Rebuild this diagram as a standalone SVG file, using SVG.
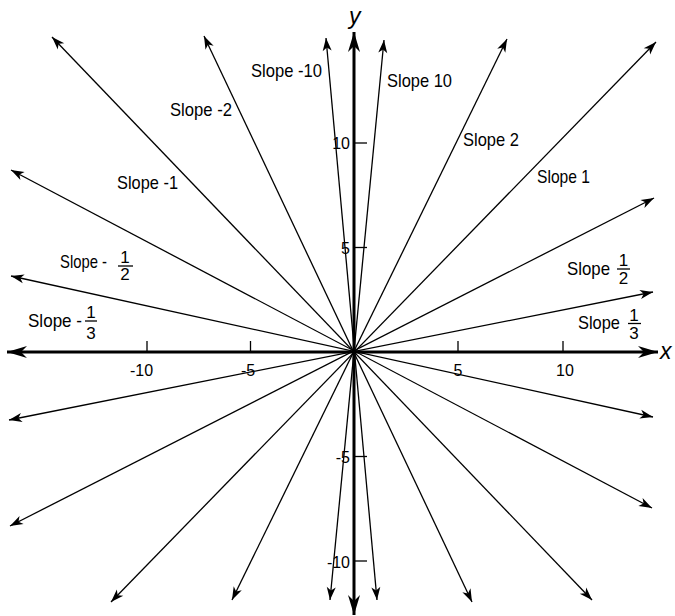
<svg xmlns="http://www.w3.org/2000/svg" width="675" height="616" viewBox="0 0 675 616">
<style>
.ln{stroke:#000;stroke-width:1.3;fill:none;marker-start:url(#ah);marker-end:url(#ah)}
.ax{stroke:#000;stroke-width:3;fill:none;marker-start:url(#axh);marker-end:url(#axh)}
.tk{stroke:#000;stroke-width:1.3}
.bar{stroke:#000;stroke-width:1.3}
text{font-family:"Liberation Sans",Arial,sans-serif;fill:#000}
.lb{font-size:19px}
.fr{font-size:17px;text-anchor:middle}
.num{font-size:16px}
.axl{font-size:23px;font-style:italic}
</style>
<defs>
<marker id="ah" markerUnits="userSpaceOnUse" orient="auto-start-reverse" refX="0" refY="0" overflow="visible" markerWidth="14" markerHeight="10">
<path d="M0,0 L-13,-4.5 L-9.5,0 L-13,4.5 Z" fill="#000"/>
</marker>
<marker id="axh" markerUnits="userSpaceOnUse" orient="auto-start-reverse" refX="0" refY="0" overflow="visible" markerWidth="22" markerHeight="14">
<path d="M0,0 L-20,-6 L-14,0 L-20,6 Z" fill="#000"/>
</marker>
</defs>
<rect width="675" height="616" fill="#fff"/>
<g id="connectors">
<line class="ln" x1="330" y1="600" x2="384" y2="40"/>
<line class="ln" x1="377" y1="600" x2="326" y2="38"/>
<line class="ln" x1="232" y1="600" x2="507" y2="39"/>
<line class="ln" x1="472" y1="602" x2="204" y2="36"/>
<line class="ln" x1="111" y1="602" x2="656" y2="42"/>
<line class="ln" x1="592" y1="600" x2="52" y2="37"/>
<line class="ln" x1="10" y1="526" x2="654" y2="198"/>
<line class="ln" x1="652" y1="508" x2="11" y2="170"/>
<line class="ln" x1="9" y1="420" x2="653" y2="292"/>
<line class="ln" x1="653" y1="417" x2="11" y2="276"/>
</g>
<g id="x-axis">
<line class="ax" x1="7" y1="352" x2="658" y2="352"/>
<line class="tk" x1="147" y1="341" x2="147" y2="352"/>
<line class="tk" x1="250.5" y1="341" x2="250.5" y2="352"/>
<line class="tk" x1="458" y1="341" x2="458" y2="352"/>
<line class="tk" x1="563" y1="341" x2="563" y2="352"/>
<text class="num" x="141.5" y="376" text-anchor="middle">-10</text>
<text class="num" x="248" y="376" text-anchor="middle">-5</text>
<text class="num" x="458" y="376" text-anchor="middle">5</text>
<text class="num" x="565" y="376" text-anchor="middle">10</text>
<text class="axl" x="660" y="359">x</text>
</g>
<g id="y-axis">
<line class="ax" x1="354" y1="615" x2="354" y2="32"/>
<line class="tk" x1="354" y1="143" x2="367" y2="143"/>
<line class="tk" x1="354" y1="247.5" x2="367" y2="247.5"/>
<line class="tk" x1="354" y1="456.5" x2="367" y2="456.5"/>
<line class="tk" x1="354" y1="561" x2="367" y2="561"/>
<text class="num" x="350" y="149" text-anchor="end">10</text>
<text class="num" x="350" y="254" text-anchor="end">5</text>
<text class="num" x="350" y="463" text-anchor="end">-5</text>
<text class="num" x="350" y="568" text-anchor="end">-10</text>
<text class="axl" x="349" y="24">y</text>
</g>
<g id="label-slope-m10"><text class="lb" x="251" y="77" textLength="71" lengthAdjust="spacingAndGlyphs">Slope -10</text></g>
<g id="label-slope-10"><text class="lb" x="387" y="87" textLength="65" lengthAdjust="spacingAndGlyphs">Slope 10</text></g>
<g id="label-slope-2"><text class="lb" x="463" y="146" textLength="56" lengthAdjust="spacingAndGlyphs">Slope 2</text></g>
<g id="label-slope-1"><text class="lb" x="537" y="183" textLength="53" lengthAdjust="spacingAndGlyphs">Slope 1</text></g>
<g id="label-slope-m2"><text class="lb" x="170" y="116" textLength="62" lengthAdjust="spacingAndGlyphs">Slope -2</text></g>
<g id="label-slope-m1"><text class="lb" x="117" y="189" textLength="61" lengthAdjust="spacingAndGlyphs">Slope -1</text></g>
<g id="label-slope-m12">
<text class="lb" x="60" y="268" textLength="47" lengthAdjust="spacingAndGlyphs">Slope -</text>
<text class="fr" x="125" y="263">1</text>
<line class="bar" x1="118" y1="266" x2="133" y2="266"/>
<text class="fr" x="125" y="280">2</text>
</g>
<g id="label-slope-12">
<text class="lb" x="567" y="275" textLength="43" lengthAdjust="spacingAndGlyphs">Slope</text>
<text class="fr" x="623.5" y="266">1</text>
<line class="bar" x1="617" y1="269" x2="630" y2="269"/>
<text class="fr" x="623.5" y="284">2</text>
</g>
<g id="label-slope-13">
<text class="lb" x="578" y="329" textLength="42" lengthAdjust="spacingAndGlyphs">Slope</text>
<text class="fr" x="634" y="321">1</text>
<line class="bar" x1="628" y1="323.5" x2="641" y2="323.5"/>
<text class="fr" x="634" y="339">3</text>
</g>
<g id="label-slope-m13">
<text class="lb" x="28" y="327" textLength="54" lengthAdjust="spacingAndGlyphs">Slope -</text>
<text class="fr" x="91" y="318">1</text>
<line class="bar" x1="85" y1="321" x2="97" y2="321"/>
<text class="fr" x="91" y="339">3</text>
</g>
</svg>
